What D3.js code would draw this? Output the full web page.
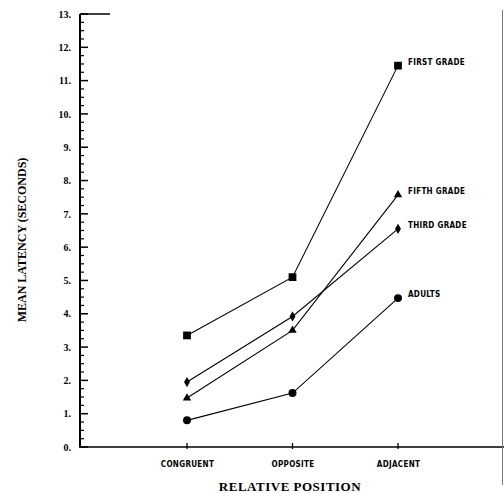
<!DOCTYPE html>
<html>
<head>
<meta charset="utf-8">
<script src="https://cdn.jsdelivr.net/npm/d3@7"></script>
<style>
  body { margin: 0; background: #fff; }
  svg { display: block; }
</style>
</head>
<body>
<div id="chart"></div>
<script>
// categories along the x axis
const positions = ["CONGRUENT", "OPPOSITE", "ADJACENT"];

// mean latency (seconds) per group
const firstGrade = [3.35, 5.1, 11.45];
const fifthGrade = [1.47, 3.5, 7.57];
const thirdGrade = [1.95, 3.92, 6.55];
const adults = [0.8, 1.62, 4.47];

const groupNames = ["FIRST GRADE", "FIFTH GRADE", "THIRD GRADE", "ADULTS"];
const yTicks = [0, 1, 2, 3, 4, 5, 6, 7, 8, 9, 10, 11, 12, 13];

const width = 504, height = 493;
const axisX = 80;

const svg = d3.select("#chart")
    .append("svg")
    .attr("width", width)
    .attr("height", height);

const x = d3.scalePoint()
    .domain(positions)
    .range([187, 398]);

const y = d3.scaleLinear()
    .domain([0, 13])
    .range([447, 14]);

const axisFont = "'Liberation Serif', 'DejaVu Serif', serif";
const letterFont = "'DejaVu Sans Condensed', 'DejaVu Sans', sans-serif";

// quarter-second ticks pointing into the plot, longer at whole seconds
const allTicks = d3.range(0, 13.01, 0.25);
svg.append("g")
    .selectAll("line")
    .data(allTicks)
    .enter().append("line")
    .attr("x1", axisX)
    .attr("x2", d => axisX + (d % 1 === 0 ? 8 : 4))
    .attr("y1", d => y(d))
    .attr("y2", d => y(d))
    .attr("stroke", "#000")
    .attr("stroke-width", d => d % 1 === 0 ? 1.5 : 1.2);

// y axis labels
svg.append("g")
    .attr("transform", `translate(${axisX},0)`)
    .call(d3.axisLeft(y).tickValues(yTicks).tickSize(0).tickPadding(9)
        .tickFormat(d => d + "."))
    .call(g => g.select(".domain").remove())
    .call(g => g.selectAll(".tick text")
        .attr("font-family", axisFont)
        .attr("font-weight", "bold")
        .attr("font-size", 10));

// y axis line
svg.append("line")
    .attr("x1", axisX).attr("x2", axisX)
    .attr("y1", y(13)).attr("y2", y(0))
    .attr("stroke", "#000").attr("stroke-width", 2);

// short top rule at 13
svg.append("line")
    .attr("x1", axisX).attr("x2", 110)
    .attr("y1", y(13)).attr("y2", y(13))
    .attr("stroke", "#000").attr("stroke-width", 1.5);

// x axis runs to the right edge
svg.append("line")
    .attr("x1", axisX - 1).attr("x2", width)
    .attr("y1", y(0)).attr("y2", y(0))
    .attr("stroke", "#000").attr("stroke-width", 1.6);

svg.append("g")
    .attr("transform", `translate(0,${y(0)})`)
    .call(d3.axisBottom(x).tickSize(0).tickPadding(14))
    .call(g => g.select(".domain").remove())
    .call(g => g.selectAll(".tick text")
        .attr("font-family", letterFont)
        .attr("font-weight", "bold")
        .attr("font-size", 8)
        .attr("letter-spacing", 0.3));

// small category ticks across the axis
svg.append("g")
    .selectAll("line")
    .data(positions)
    .enter().append("line")
    .attr("x1", d => x(d)).attr("x2", d => x(d))
    .attr("y1", y(0) - 4).attr("y2", y(0) + 2)
    .attr("stroke", "#000").attr("stroke-width", 1.3);

// right page border from the scan
svg.append("line")
    .attr("x1", 502.5).attr("x2", 502.5)
    .attr("y1", 10).attr("y2", 485)
    .attr("stroke", "#777").attr("stroke-width", 1);

// axis titles
svg.append("text")
    .attr("x", 290).attr("y", 491)
    .attr("text-anchor", "middle")
    .attr("font-family", axisFont)
    .attr("font-weight", "bold")
    .attr("font-size", 13)
    .attr("letter-spacing", 0.5)
    .text("RELATIVE POSITION");

svg.append("text")
    .attr("transform", "translate(26,240) rotate(-90)")
    .attr("text-anchor", "middle")
    .attr("font-family", axisFont)
    .attr("font-weight", "bold")
    .attr("font-size", 12)
    .text("MEAN LATENCY (SECONDS)");

const series = [
    { name: groupNames[0], values: firstGrade, symbol: d3.symbolSquare, size: 60 },
    { name: groupNames[1], values: fifthGrade, symbol: d3.symbolTriangle, size: 30 },
    { name: groupNames[2], values: thirdGrade, symbol: d3.symbolDiamond, size: 30 },
    { name: groupNames[3], values: adults, symbol: d3.symbolCircle, size: 50 }
];

const line = d3.line()
    .x((d, i) => x(positions[i]))
    .y(d => y(d));

series.forEach(s => {
    svg.append("path")
        .datum(s.values)
        .attr("fill", "none")
        .attr("stroke", "#000")
        .attr("stroke-width", 1.1)
        .attr("d", line);

    svg.selectAll(null)
        .data(s.values)
        .enter().append("path")
        .attr("transform", (d, i) => `translate(${x(positions[i])},${y(d)})`)
        .attr("d", d3.symbol().type(s.symbol).size(s.size))
        .attr("fill", "#000");

    const last = s.values[s.values.length - 1];
    svg.append("text")
        .attr("x", x(positions[positions.length - 1]) + 10)
        .attr("y", y(last) - 1)
        .attr("font-family", letterFont)
        .attr("font-weight", "bold")
        .attr("font-size", 8)
        .attr("letter-spacing", 0.3)
        .text(s.name);
});
</script>
</body>
</html>
